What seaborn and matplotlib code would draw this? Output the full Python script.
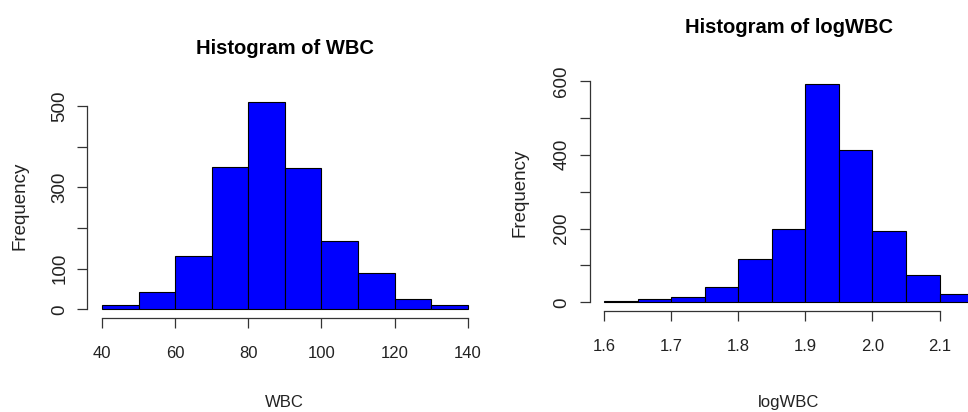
import numpy as np
import pandas as pd
import matplotlib
matplotlib.use("Agg")
import matplotlib.pyplot as plt
import seaborn as sns

# ---- data ----
wbc_edges = [40, 50, 60, 70, 80, 90, 100, 110, 120, 130, 140]
wbc_counts = [10, 43, 132, 350, 509, 347, 169, 90, 25, 10]
wbc_xticks = [40, 60, 80, 100, 120, 140]
wbc_yticks = [0, 100, 200, 300, 400, 500]
wbc_ylabels = ["0", "100", "", "300", "", "500"]

log_edges = [1.60, 1.65, 1.70, 1.75, 1.80, 1.85, 1.90, 1.95, 2.00, 2.05, 2.10, 2.15]
log_counts = [4, 8, 14, 42, 117, 199, 592, 414, 192, 75, 22]
log_xticks = [1.6, 1.7, 1.8, 1.9, 2.0, 2.1]
log_xlabels = ["1.6", "1.7", "1.8", "1.9", "2.0", "2.1"]
log_yticks = [0, 100, 200, 300, 400, 500, 600]
log_ylabels = ["0", "", "200", "", "400", "", "600"]

sns.set_style("ticks")
plt.rcParams["font.family"] = ["Liberation Sans", "DejaVu Sans"]

TXT = "#222222"
AX = "#333333"

fig = plt.figure(figsize=(9.68, 4.12), dpi=100)
ax1 = fig.add_axes([0.09019, 0.22888, 0.40806, 0.54272])
ax2 = fig.add_axes([0.60899, 0.24515, 0.41147, 0.57233])


def r_hist(ax, edges, counts, xticks, xlabels, yticks, ylabels, title, xlabel,
           title_y, xlabel_y, ylabel_x):
    e = np.asarray(edges, dtype=float)
    df = pd.DataFrame({"mid": (e[:-1] + e[1:]) / 2, "count": counts})
    sns.histplot(data=df, x="mid", weights="count", bins=list(edges), ax=ax,
                 stat="count", color="#0000FF", edgecolor="black",
                 linewidth=0.8, alpha=1.0)
    rng = e[-1] - e[0]
    ax.set_xlim(e[0] - 0.04 * rng, e[-1] + 0.04 * rng)
    ymax = max(counts)
    ax.set_ylim(-0.04 * ymax, 1.04 * ymax)

    for s in ("top", "right"):
        ax.spines[s].set_visible(False)
    for s in ("left", "bottom"):
        ax.spines[s].set_color(AX)
        ax.spines[s].set_linewidth(0.9)
    ax.spines["bottom"].set_bounds(xticks[0], xticks[-1])
    ax.spines["left"].set_bounds(yticks[0], yticks[-1])

    ax.set_xticks(xticks)
    ax.set_xticklabels(xlabels, fontsize=12)
    ax.set_yticks(yticks)
    ax.set_yticklabels(ylabels, rotation=90, va="center", fontsize=13.5)
    ax.tick_params(axis="both", direction="out", length=7.2, width=0.9,
                   color=AX, labelcolor=TXT)
    ax.tick_params(axis="x", pad=13)
    ax.tick_params(axis="y", pad=6.5)

    ax.set_title(title, fontsize=14.5, fontweight="bold", color="black",
                 y=title_y, va="center", pad=0)
    ax.set_xlabel(xlabel, fontsize=12, color=TXT, va="center")
    ax.set_ylabel("Frequency", fontsize=13.5, color=TXT, va="center")
    ax.xaxis.set_label_coords(0.5, xlabel_y)
    ax.yaxis.set_label_coords(ylabel_x, 0.5)
    ax.grid(False)


r_hist(ax1, wbc_edges, wbc_counts, wbc_xticks, [str(t) for t in wbc_xticks],
       wbc_yticks, wbc_ylabels, "Histogram of WBC", "WBC",
       1.206, -0.378, -0.170)
r_hist(ax2, log_edges, log_counts, log_xticks, log_xlabels,
       log_yticks, log_ylabels, "Histogram of logWBC", "logWBC",
       1.2044, -0.387, -0.1745)

fig.savefig("out.png", dpi=100, facecolor="white")
